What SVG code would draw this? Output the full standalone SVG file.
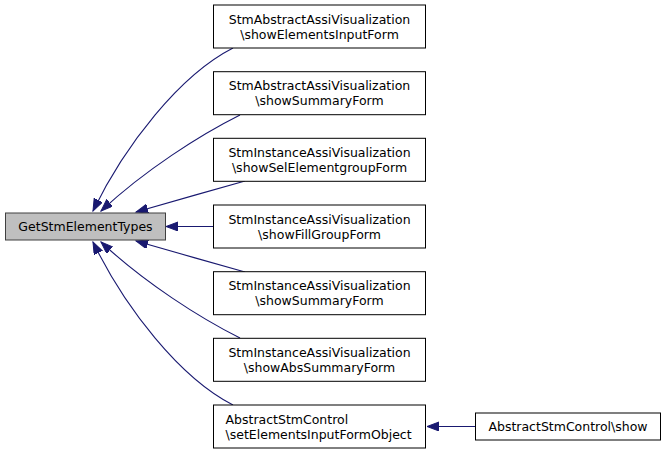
<svg xmlns="http://www.w3.org/2000/svg" width="667" height="453" viewBox="0 0 667 453">
<style>
  .box { fill: #ffffff; stroke: #000000; stroke-width: 1; }
  .main { fill: #bfbfbf; stroke: #404040; stroke-width: 1; }
  text { font-family: "DejaVu Sans", "Liberation Sans", sans-serif; font-size: 12.5px; fill: #000000; }
  .c { text-anchor: middle; }
  .l { text-anchor: start; }
  .edge { fill: none; stroke: #191970; stroke-width: 1.1; marker-end: url(#arr); }
</style>
<defs>
  <marker id="arr" markerUnits="userSpaceOnUse" markerWidth="14" markerHeight="10" refX="12" refY="4.5" orient="auto">
    <path d="M0,0 L12,4.5 L0,9 z" fill="#191970" stroke="#191970" stroke-width="1"/>
  </marker>
</defs>
<rect width="667" height="453" fill="#ffffff"/>
<g id="connectors">
  <path class="edge" d="M233,48 C180,75 125,145 93,211"/>
  <path class="edge" d="M240,115 C200,135 145,170 101,211"/>
  <path class="edge" d="M245,181 C210,191 170,202 136,212"/>
  <path class="edge" d="M213,226.5 L166,226.5"/>
  <path class="edge" d="M245,272 C210,262 170,251 136,241"/>
  <path class="edge" d="M240,338 C200,318 145,283 101,242"/>
  <path class="edge" d="M233,405 C180,378 125,308 93,242"/>
  <path class="edge" d="M475,426.5 L427,426.5"/>
</g>
<g id="n0">
  <rect class="main" x="5.5" y="213" width="160" height="27"/>
  <text class="c" x="85.5" y="231">GetStmElementTypes</text>
</g>
<g id="n1">
  <rect class="box" x="213.5" y="5" width="212" height="43"/>
  <text class="c" x="319.5" y="23.5">StmAbstractAssiVisualization</text>
  <text class="c" x="319.5" y="38.5">\showElementsInputForm</text>
</g>
<g id="n2">
  <rect class="box" x="213.5" y="71.7" width="212" height="43"/>
  <text class="c" x="319.5" y="90.2">StmAbstractAssiVisualization</text>
  <text class="c" x="319.5" y="105.2">\showSummaryForm</text>
</g>
<g id="n3">
  <rect class="box" x="213.5" y="138.3" width="212" height="43"/>
  <text class="c" x="319.5" y="156.8">StmInstanceAssiVisualization</text>
  <text class="c" x="319.5" y="171.8">\showSelElementgroupForm</text>
</g>
<g id="n4">
  <rect class="box" x="213.5" y="205" width="212" height="43"/>
  <text class="c" x="319.5" y="223.5">StmInstanceAssiVisualization</text>
  <text class="c" x="319.5" y="238.5">\showFillGroupForm</text>
</g>
<g id="n5">
  <rect class="box" x="213.5" y="271.7" width="212" height="43"/>
  <text class="c" x="319.5" y="290.2">StmInstanceAssiVisualization</text>
  <text class="c" x="319.5" y="305.2">\showSummaryForm</text>
</g>
<g id="n6">
  <rect class="box" x="213.5" y="338.3" width="212" height="43"/>
  <text class="c" x="319.5" y="356.8">StmInstanceAssiVisualization</text>
  <text class="c" x="319.5" y="371.8">\showAbsSummaryForm</text>
</g>
<g id="n7">
  <rect class="box" x="213.5" y="405" width="212" height="43"/>
  <text class="l" x="225.5" y="423.5">AbstractStmControl</text>
  <text class="l" x="225.5" y="438.5">\setElementsInputFormObject</text>
</g>
<g id="n8">
  <rect class="box" x="475.5" y="413" width="185" height="27"/>
  <text class="c" x="568" y="431">AbstractStmControl\show</text>
</g>
</svg>
